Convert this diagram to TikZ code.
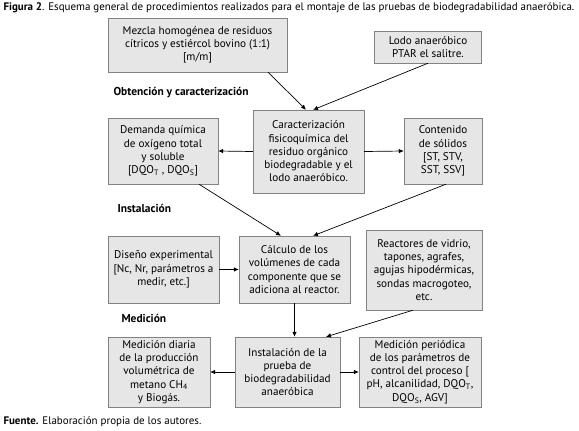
\documentclass[tikz,border=0pt]{standalone}
\usepackage{fontspec}
\setmainfont{PT Sans}
\usetikzlibrary{arrows.meta}
\definecolor{boxfill}{RGB}{230,230,230}
\definecolor{boxline}{RGB}{130,130,130}

\begin{document}
\begin{tikzpicture}[x=1bp, y=-1bp,
    every node/.style={font=\fontsize{11.2}{13.3}\selectfont},
    procbox/.style={draw=boxline, fill=boxfill, align=center, inner sep=0pt},
    stage/.style={anchor=west, font=\fontsize{11.5}{13}\selectfont\bfseries},
    flow/.style={-{Latex[length=5bp,width=4.5bp]}, line width=0.7pt}]
    \useasboundingbox (0,0) rectangle (579,430);

    \node[anchor=west, font=\fontsize{11}{13}\selectfont] (caption) at (0,8)
        {\textbf{Figura 2}. Esquema general de procedimientos realizados para el montaje de las pruebas de biodegradabilidad anaeróbica.};

    \node[procbox, minimum width=179bp, minimum height=54bp] (mezcla) at (197.5,45)
        {Mezcla homogénea de residuos\\cítricos y estiércol bovino (1:1)\\{[m/m]}};
    \node[procbox, minimum width=107bp, minimum height=32bp] (lodo) at (428,47)
        {Lodo anaeróbico\\PTAR el salitre.};

    \node[stage] (obtencion) at (110,93) {Obtención y caracterización};
    \node[procbox, minimum width=110bp, minimum height=66bp] (demanda) at (163,151)
        {Demanda química\\de oxígeno total\\y soluble\\{[DQO\textsubscript{T} , DQO\textsubscript{S}]}};
    \node[procbox, minimum width=111bp, minimum height=83bp] (caract) at (308.5,151.5)
        {Caracterización\\fisicoquímica del\\residuo orgánico\\biodegradable y el\\lodo anaeróbico.};
    \node[procbox, minimum width=78bp, minimum height=66bp] (contenido) at (443,151)
        {Contenido\\de sólidos\\{[ST, STV,}\\SST, SSV]};

    \node[stage] (instalacion) at (114,208) {Instalación};
    \node[procbox, minimum width=111bp, minimum height=67bp] (diseno) at (163.5,269.5)
        {Diseño experimental\\{[Nc, Nr, parámetros a}\\medir, etc.]};
    \node[procbox, minimum width=111bp, minimum height=67bp] (calculo) at (294.5,269.5)
        {Cálculo de los\\volúmenes de cada\\componente que se\\adiciona al reactor.};
    \node[procbox, minimum width=116bp, minimum height=80bp] (reactores) at (424,270)
        {Reactores de vidrio,\\tapones, agrafes,\\agujas hipodérmicas,\\sondas macrogoteo,\\etc.};

    \node[stage] (medicion) at (118,318) {Medición};
    \node[procbox, minimum width=102bp, minimum height=70bp] (diaria) at (159,372)
        {Medición diaria\\de la producción\\volumétrica de\\metano CH\textsubscript{4}\\y Biogás.};
    \node[procbox, minimum width=105bp, minimum height=70bp] (prueba) at (287.5,372)
        {Instalación de la\\prueba de\\biodegradabilidad\\anaeróbica};
    \node[procbox, minimum width=122bp, minimum height=70bp] (periodica) at (420,372)
        {Medición periódica\\de los parámetros de\\control del proceso [\\pH, alcanilidad, DQO\textsubscript{T},\\DQO\textsubscript{S}, AGV]};

    \node[anchor=west, font=\fontsize{11}{13}\selectfont] (fuente) at (0,422)
        {\textbf{Fuente.} Elaboración propia de los autores.};

    \draw[flow] ([xshift=70.5bp]mezcla.south) -- ([xshift=-2.5bp]caract.north);
    \draw[flow] (lodo.south) -- ([xshift=4.5bp]caract.north);
    \draw[flow] (caract.west) -- (demanda.east);
    \draw[flow] (caract.east) -- (contenido.west);
    \draw[flow] ([xshift=36bp]demanda.south) -- ([xshift=-13.5bp]calculo.north);
    \draw[flow] ([xshift=3bp]contenido.south) -- ([xshift=18.5bp]calculo.north);
    \draw[flow] (diseno.east) -- (calculo.west);
    \draw[flow] (calculo.south) -- (calculo.south |- prueba.north);
    \draw[flow] ([xshift=-11bp]reactores.south) -- ([xshift=38.5bp]prueba.north);
    \draw[flow] (prueba.west) -- (diaria.east);
    \draw[flow] (prueba.east) -- (periodica.west);
\end{tikzpicture}
\end{document}
